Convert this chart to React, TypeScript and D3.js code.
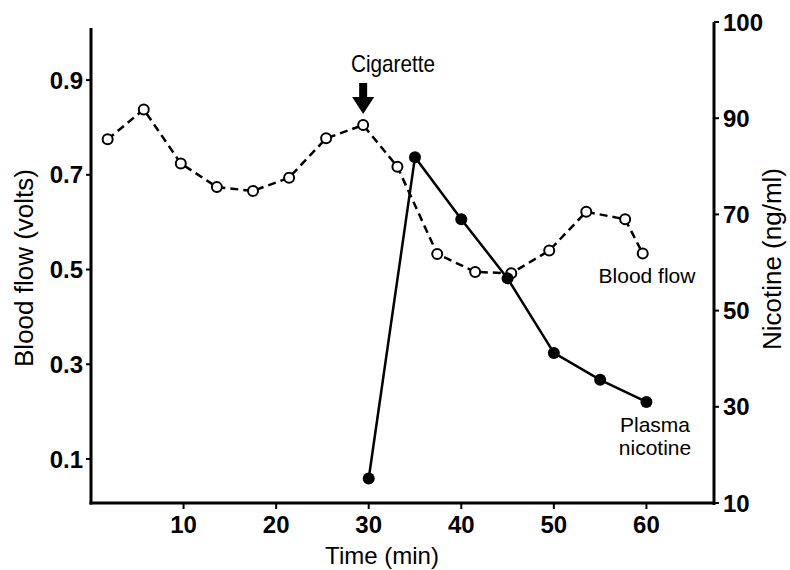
import React from "react";
import * as d3 from "d3";

const flowTimes = [1.8, 5.7, 9.7, 13.6, 17.5, 21.4, 25.4, 29.4, 33.1, 37.4, 41.5, 45.4, 49.5, 53.5, 57.7, 59.6];
const flowValues = [0.775, 0.838, 0.724, 0.674, 0.666, 0.694, 0.777, 0.805, 0.717, 0.533, 0.495, 0.492, 0.54, 0.622, 0.606, 0.534];

const nicTimes = [30, 35, 40, 45, 50, 55, 60];
const nicValues = [15.1, 81.9, 69, 56.7, 41.2, 35.6, 31];

const xTicks = [10, 20, 30, 40, 50, 60];
const leftTicks = [0.1, 0.3, 0.5, 0.7, 0.9];
const rightTickPositions = [10, 30, 50, 70, 90, 110];
const rightTickLabels = ["10", "30", "50", "70", "90", "100"];

const FONT = "'Liberation Sans', Arial, Helvetica, sans-serif";

export default function App() {
  const x = d3.scaleLinear().domain([0, 67.3]).range([91, 714]);
  const yL = d3.scaleLinear().domain([0.007, 1.01]).range([503, 28]);
  const yR = d3.scaleLinear().domain([10, 110]).range([503, 22]);

  const flowPts: [number, number][] = flowTimes.map((t, i) => [x(t), yL(flowValues[i])]);
  const nicPts: [number, number][] = nicTimes.map((t, i) => [x(t), yR(nicValues[i])]);
  const line = d3.line();

  const cigX = x(29.4);
  const arrowTop = 83;
  const arrowHead = 97;
  const arrowTip = 114;

  return (
    <svg width={790} height={570} style={{ position: "absolute", left: 0, top: 0, background: "#fff" }} fontFamily={FONT}>
      {/* left axis */}
      <line x1={x(0)} x2={x(0)} y1={yL(1.01)} y2={yL(0.007) + 1.5} stroke="#000" strokeWidth={3} />
      {leftTicks.map((t) => (
        <g key={t}>
          <line x1={x(0) - 5} x2={x(0)} y1={yL(t)} y2={yL(t)} stroke="#000" strokeWidth={2} />
          <text x={x(0) - 8} y={yL(t)} dy="0.36em" textAnchor="end" fontSize={24} fontWeight="bold">
            {String(t)}
          </text>
        </g>
      ))}
      {/* bottom axis */}
      <line x1={x(0) - 1.5} x2={x(67.3)} y1={503} y2={503} stroke="#000" strokeWidth={3} />
      {xTicks.map((t) => (
        <g key={t}>
          <line x1={x(t)} x2={x(t)} y1={503} y2={509} stroke="#000" strokeWidth={2} />
          <text x={x(t)} y={533} textAnchor="middle" fontSize={24} fontWeight="bold">
            {t}
          </text>
        </g>
      ))}
      {/* right axis */}
      <line x1={x(67.3)} x2={x(67.3)} y1={yR(110)} y2={yR(10) + 2} stroke="#000" strokeWidth={3} />
      {rightTickPositions.map((t, i) => (
        <g key={t}>
          <line x1={x(67.3)} x2={x(67.3) + 5} y1={yR(t)} y2={yR(t)} stroke="#000" strokeWidth={2} />
          <text x={x(67.3) + 9} y={yR(t)} dy="0.36em" textAnchor="start" fontSize={24} fontWeight="bold">
            {rightTickLabels[i]}
          </text>
        </g>
      ))}

      {/* axis titles */}
      <text transform="translate(33,268) rotate(-90)" textAnchor="middle" fontSize={26}>
        Blood flow (volts)
      </text>
      <text transform="translate(781,259) rotate(-90)" textAnchor="middle" fontSize={26}>
        Nicotine (ng/ml)
      </text>
      <text x={382} y={564} textAnchor="middle" fontSize={24}>
        Time (min)
      </text>

      {/* blood flow dashed line */}
      <path d={line(flowPts) || ""} fill="none" stroke="#000" strokeWidth={2.5} strokeDasharray="8,5" />
      {flowPts.map((p, i) => (
        <circle key={i} cx={p[0]} cy={p[1]} r={5} fill="#fff" stroke="#000" strokeWidth={2} />
      ))}

      {/* plasma nicotine solid line */}
      <path d={line(nicPts) || ""} fill="none" stroke="#000" strokeWidth={2.5} />
      {nicPts.map((p, i) => (
        <circle key={i} cx={p[0]} cy={p[1]} r={6} fill="#000" />
      ))}

      {/* cigarette arrow */}
      <path
        d={`M${cigX - 4},${arrowTop} L${cigX + 4},${arrowTop} L${cigX + 4},${arrowHead} L${cigX + 11},${arrowHead} L${cigX},${arrowTip} L${cigX - 11},${arrowHead} L${cigX - 4},${arrowHead} Z`}
        fill="#000"
      />
      <text transform="translate(393,72) scale(0.9,1)" textAnchor="middle" fontSize={23}>
        Cigarette
      </text>

      {/* annotations */}
      <text x={647} y={283} textAnchor="middle" fontSize={21}>
        Blood flow
      </text>
      <text x={655} y={432} textAnchor="middle" fontSize={21}>
        Plasma
      </text>
      <text x={655} y={455} textAnchor="middle" fontSize={21}>
        nicotine
      </text>
    </svg>
  );
}
